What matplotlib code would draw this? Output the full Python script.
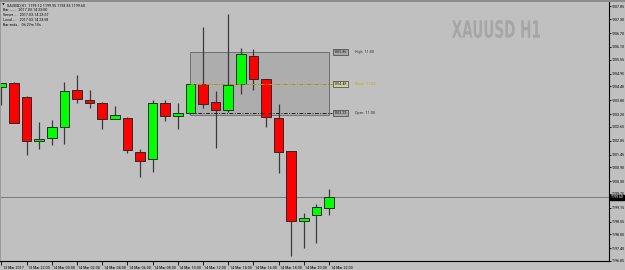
import matplotlib
matplotlib.use("Agg")
import matplotlib.pyplot as plt
from matplotlib import font_manager as fm
from matplotlib.patches import Rectangle, PathPatch
from matplotlib.textpath import TextPath
from matplotlib.font_manager import FontProperties
from matplotlib.transforms import Affine2D, blended_transform_factory
import numpy as np

# hourly XAUUSD bars, 13 Mar 20:00 .. 14 Mar 22:00
opens = [1204.35, 1204.55, 1203.95, 1202.02, 1202.15, 1202.65, 1204.24, 1203.82, 1203.68,
         1203.00, 1203.03, 1201.56, 1201.24, 1203.66, 1203.11, 1203.23, 1204.48, 1203.72,
         1203.39, 1204.48, 1205.71, 1204.70, 1203.02, 1201.60, 1198.59, 1198.84, 1199.12]
highs = [1204.55, 1204.58, 1203.97, 1202.86, 1202.94, 1204.60, 1204.89, 1204.24, 1203.70,
         1203.55, 1203.05, 1201.69, 1203.79, 1203.81, 1203.66, 1204.50, 1206.95, 1204.21,
         1207.52, 1206.06, 1206.00, 1204.72, 1203.63, 1201.62, 1198.94, 1199.30, 1199.95]
lows = [1203.59, 1202.80, 1201.43, 1201.70, 1201.86, 1201.92, 1203.69, 1203.46, 1202.54,
        1202.98, 1201.50, 1200.49, 1200.71, 1202.91, 1202.57, 1203.21, 1203.45, 1201.72,
        1203.29, 1204.05, 1204.25, 1202.62, 1200.66, 1197.08, 1197.42, 1197.64, 1198.85]
closes = [1204.53, 1202.82, 1202.02, 1202.13, 1202.63, 1204.21, 1203.84, 1203.66, 1203.00,
          1203.14, 1201.63, 1201.18, 1203.66, 1203.10, 1203.24, 1204.48, 1203.62, 1203.37,
          1204.47, 1205.78, 1204.71, 1203.05, 1201.57, 1198.59, 1198.71, 1199.18, 1199.60]

time_labels = ["13 Mar 2017", "13 Mar 22:00", "14 Mar 00:00", "14 Mar 02:00", "14 Mar 04:00",
               "14 Mar 06:00", "14 Mar 08:00", "14 Mar 10:00", "14 Mar 12:00", "14 Mar 14:00",
               "14 Mar 16:00", "14 Mar 18:00", "14 Mar 20:00", "14 Mar 22:00"]
price_ticks = [1207.85, 1207.30, 1206.70, 1206.10, 1205.55, 1204.95, 1204.40, 1203.80, 1203.20,
               1202.65, 1202.05, 1201.45, 1200.90, 1200.30, 1199.75, 1199.15, 1198.55, 1198.00,
               1197.40, 1196.85]

# 11:00 range box
zone_start, zone_end = 15, 26
zone_high = 1205.86
zone_low = 1203.16
zone_close = 1204.48
zone_open = 1203.23
last_price = 1199.60

header = ["XAUUSD,H1  1199.12 1199.95 1198.85 1199.60",
          "Bar.......  2017.03.14 23:00",
          "Server....  2017.03.14 23:57",
          "Local.....  2017.03.14 23:58",
          "Bar ends..  0h 27m 10s"]

BG = "#c0c0c0"


def narrow_font():
    # MT4 uses a tiny narrow font; take a narrow family if there is one
    for fam in ["Liberation Sans Narrow", "Roboto Condensed", "Open Sans Condensed"]:
        try:
            fm.findfont(FontProperties(family=fam), fallback_to_default=False)
            return fam, 3.0
        except ValueError:
            pass
    return "DejaVu Sans", 2.3


small, fs = narrow_font()
fs_axis = fs * 0.95

fig = plt.figure(figsize=(6.25, 2.70), dpi=100, facecolor=BG)
ax = fig.add_axes([0, 9 / 270, 609 / 625, 259 / 270])
ax.set_facecolor(BG)

o = np.array(opens)
c = np.array(closes)
h = np.array(highs)
l = np.array(lows)
x = np.arange(len(o))
up = c >= o

# range box and its lines
ax.add_patch(Rectangle((zone_start, zone_low), zone_end - zone_start, zone_high - zone_low,
                       facecolor="#adadad", edgecolor="#707070", lw=0.7, zorder=1))
ax.hlines(zone_close, zone_start, zone_end + 0.2, colors="#a09a00", lw=0.7,
          linestyles=(0, (4, 1.5, 1, 1.5)), zorder=4)
ax.hlines(zone_open, zone_start, zone_end + 0.2, colors="#202020", lw=0.7,
          linestyles=(0, (4, 1.5, 1, 1.5)), zorder=4)

# current price line
ax.axhline(last_price, color="#7a7a7a", lw=0.7, zorder=1)

# candles
ax.vlines(x, l, h, colors="#3a3a3a", lw=0.9, zorder=2)
bottoms = np.minimum(o, c)
heights = np.maximum(np.abs(c - o), 0.04)
ax.bar(x, heights, bottom=bottoms, width=0.76,
       color=np.where(up, "#00ff00", "#ff0000"), edgecolor="#2a2a2a", lw=0.7, zorder=3)

ax.set_xlim(-0.11, 48.22)
ax.set_ylim(1196.85, 1208.04)

ax.yaxis.tick_right()
ax.set_yticks(price_ticks)
ax.set_yticklabels([f"{p:.2f}" for p in price_ticks], fontsize=fs_axis, family=small)
ax.set_xticks(x[::2])
ax.set_xticklabels(time_labels, fontsize=fs, family=small, ha="left")
ax.tick_params(axis="y", length=1.5, width=0.6, pad=0.4, colors="black")
ax.tick_params(axis="x", length=3, width=0.6, pad=0.8, colors="black")
for lab in ax.get_xticklabels():
    lab.set_transform(lab.get_transform() + Affine2D().translate(1.5, 0))
for s in ["top", "left"]:
    ax.spines[s].set_visible(False)
ax.spines["right"].set_linewidth(0.8)
ax.spines["bottom"].set_linewidth(0.8)

# range labels
for val, txt, col, box in [(zone_high, "High  11:00", "#303030", "#a8a8a8"),
                           (zone_close, "Close  11:00", "#b8a800", "#d0d0a0"),
                           (zone_open, "Open  11:00", "#303030", "#a8a8a8")]:
    ax.text(zone_end + 0.38, val, f"{val:.2f}", fontsize=fs, family=small, va="center",
            ha="left", color="#202020",
            bbox=dict(boxstyle="square,pad=0.25", fc=box, ec="#404040", lw=0.5), zorder=5)
    ax.text(zone_end + 2.05, val, txt, fontsize=fs, family=small, va="center", ha="left",
            color=col, zorder=5)

# current price tag
ax.text(1.003, last_price, f"{last_price:.2f}",
        transform=blended_transform_factory(ax.transAxes, ax.transData),
        fontsize=fs_axis, family=small, va="center", ha="left", color="white",
        bbox=dict(boxstyle="square,pad=0.12", fc="black", ec="black"), zorder=6, clip_on=False)

# header lines
fig.text(2 / 625, 1 - 5 / 270, "\u25bc", fontsize=2.5, va="center", ha="left", color="#202020")
for i, line in enumerate(header):
    xx = 7 if i == 0 else 3
    fig.text(xx / 625, 1 - (5 + 4.9 * i) / 270, line, fontsize=fs, family=small,
             va="center", ha="left", color="#101010")

# watermark, squeezed into its box
tp = TextPath((0, 0), "XAUUSD H1", size=10, prop=FontProperties(family="DejaVu Sans", weight="bold"))
ext = tp.get_extents()
sx = 88 / ext.width
sy = 18 / ext.height
wm = Affine2D().translate(-ext.x0, -ext.y0).scale(sx, sy).translate(452, 270 - 38)
fig.add_artist(PathPatch(tp, transform=wm, facecolor="#a6a6a6", edgecolor="none"))

# window frame
fig.add_artist(Rectangle((0, 1 - 2 / 270), 1, 2 / 270, transform=fig.transFigure,
                         facecolor="#8c8c8c", edgecolor="none"))
fig.add_artist(Rectangle((0, 9 / 270), 1.5 / 625, 259 / 270, transform=fig.transFigure,
                         facecolor="#9a9a9a", edgecolor="none"))

fig.savefig("out.png", dpi=100, facecolor=BG)
